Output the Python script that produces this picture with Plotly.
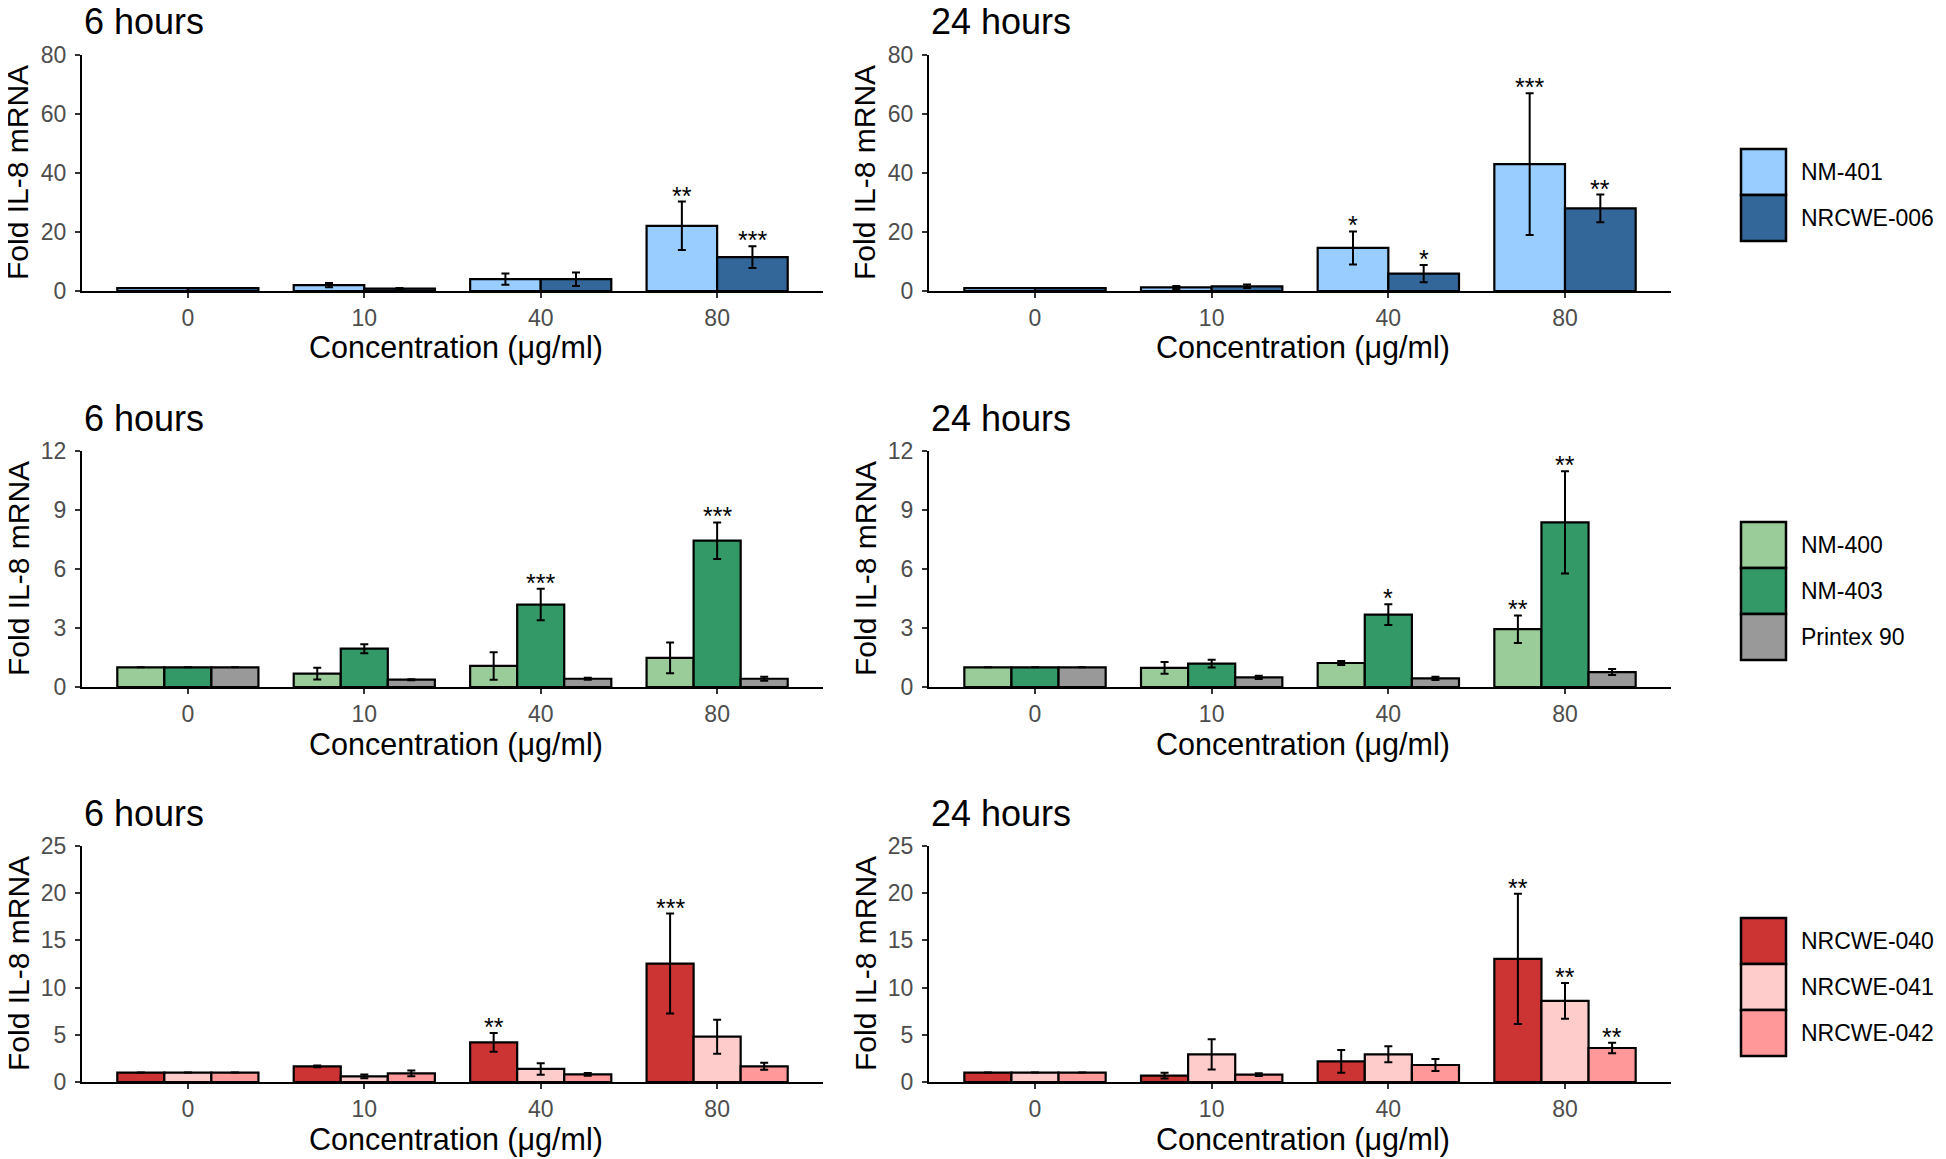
import plotly.graph_objects as go

# The page body adds an 8 px margin; all pixel targets are offset by it and
# the figure extends to the window's right/bottom edges.
OFF = 8
W, H = 1946 - OFF, 1159 - OFF

# ---------------- data ----------------
categories = ["0", "10", "40", "80"]
tick_vals_rows = [[0, 20, 40, 60, 80], [0, 3, 6, 9, 12], [0, 5, 10, 15, 20, 25]]
y_max_rows = [80, 12, 25]
panel_titles = ["6 hours", "24 hours"]

series_row1 = ["NM-401", "NRCWE-006"]
colors_row1 = ["#99CCFF", "#336699"]
series_row2 = ["NM-400", "NM-403", "Printex 90"]
colors_row2 = ["#99CC99", "#339966", "#999999"]
series_row3 = ["NRCWE-040", "NRCWE-041", "NRCWE-042"]
colors_row3 = ["#CC3333", "#FFCCCC", "#FF9999"]

# row 1
nm401_6h = [1.0, 2.0, 4.0, 22.1]
nm401_6h_err = [0, 0.7, 1.9, 8.2]
nrcwe006_6h = [1.0, 0.8, 4.0, 11.5]
nrcwe006_6h_err = [0, 0.2, 2.3, 3.7]
nm401_24h = [1.0, 1.2, 14.6, 43.0]
nm401_24h_err = [0, 0.5, 5.6, 24.0]
nrcwe006_24h = [1.0, 1.6, 5.9, 28.0]
nrcwe006_24h_err = [0, 0.6, 2.9, 4.7]

# row 2
nm400_6h = [1.0, 0.68, 1.07, 1.48]
nm400_6h_err = [0, 0.3, 0.7, 0.78]
nm403_6h = [1.0, 1.95, 4.19, 7.44]
nm403_6h_err = [0, 0.23, 0.8, 0.93]
printex_6h = [1.0, 0.37, 0.42, 0.42]
printex_6h_err = [0, 0.03, 0.05, 0.1]
nm400_24h = [1.0, 0.97, 1.22, 2.94]
nm400_24h_err = [0, 0.3, 0.1, 0.7]
nm403_24h = [1.0, 1.19, 3.68, 8.37]
nm403_24h_err = [0, 0.2, 0.53, 2.6]
printex_24h = [1.0, 0.49, 0.44, 0.76]
printex_24h_err = [0, 0.08, 0.08, 0.15]

# row 3
n040_6h = [1.0, 1.66, 4.2, 12.55]
n040_6h_err = [0, 0.1, 1.0, 5.3]
n041_6h = [1.0, 0.6, 1.38, 4.8]
n041_6h_err = [0, 0.2, 0.6, 1.8]
n042_6h = [1.0, 0.92, 0.81, 1.66]
n042_6h_err = [0, 0.3, 0.15, 0.37]
n040_24h = [1.0, 0.67, 2.19, 13.05]
n040_24h_err = [0, 0.3, 1.2, 6.9]
n041_24h = [1.0, 2.93, 2.93, 8.6]
n041_24h_err = [0, 1.6, 0.85, 1.9]
n042_24h = [1.0, 0.78, 1.8, 3.6]
n042_24h_err = [0, 0.15, 0.63, 0.55]

# significance marks: (category index, series index, label)
stars_1a = [(3, 0, "**"), (3, 1, "***")]
stars_1b = [(2, 0, "*"), (2, 1, "*"), (3, 0, "***"), (3, 1, "**")]
stars_2a = [(2, 1, "***"), (3, 1, "***")]
stars_2b = [(2, 1, "*"), (3, 0, "**"), (3, 1, "**")]
stars_3a = [(2, 0, "**"), (3, 0, "***")]
stars_3b = [(3, 0, "**"), (3, 1, "**"), (3, 2, "**")]

panels = [
    (0, 0, series_row1, colors_row1, [nm401_6h, nrcwe006_6h], [nm401_6h_err, nrcwe006_6h_err], stars_1a),
    (0, 1, series_row1, colors_row1, [nm401_24h, nrcwe006_24h], [nm401_24h_err, nrcwe006_24h_err], stars_1b),
    (1, 0, series_row2, colors_row2, [nm400_6h, nm403_6h, printex_6h], [nm400_6h_err, nm403_6h_err, printex_6h_err], stars_2a),
    (1, 1, series_row2, colors_row2, [nm400_24h, nm403_24h, printex_24h], [nm400_24h_err, nm403_24h_err, printex_24h_err], stars_2b),
    (2, 0, series_row3, colors_row3, [n040_6h, n041_6h, n042_6h], [n040_6h_err, n041_6h_err, n042_6h_err], stars_3a),
    (2, 1, series_row3, colors_row3, [n040_24h, n041_24h, n042_24h], [n040_24h_err, n041_24h_err, n042_24h_err], stars_3b),
]

# ---------------- layout geometry (window pixels) ----------------
col_x = [(82, 823), (929, 1671)]
row_y = [(55, 291), (451, 687), (846, 1082)]
legend_centers = [195, 591, 987]
GROUP_W = 0.8

FONT = "Liberation Sans, Arial, sans-serif"


def px(x):
    return (x - OFF) / W


def py(y):
    return 1 - (y - OFF) / H


fig = go.Figure()
annotations = []
shapes = []

for k, (r, c, names, cols, vals, errs, stars) in enumerate(panels):
    idx = "" if k == 0 else str(k + 1)
    xa, ya = "x" + idx, "y" + idx
    for name, col, v, e in zip(names, cols, vals, errs):
        fig.add_trace(go.Bar(
            x=categories, y=v, name=name, xaxis=xa, yaxis=ya, showlegend=False,
            marker=dict(color=col, line=dict(color="black", width=2.2)),
            error_y=dict(type="data", array=e, visible=True, color="black",
                         thickness=2, width=4),
        ))
    x0, x1 = col_x[c]
    y0, y1 = row_y[r]
    axis_common = dict(
        showline=True, linecolor="black", linewidth=2.2,
        ticks="outside", ticklen=5, tickwidth=2, tickcolor="#333333",
        tickfont=dict(family=FONT, size=23, color="#4D4D4D"),
        showgrid=False, zeroline=False, fixedrange=True, automargin=False,
    )
    fig.update_layout(**{
        ("xaxis" + idx): dict(
            domain=[px(x0), px(x1)], anchor=ya, type="category",
            range=[-0.6, 3.6], **axis_common,
        ),
        ("yaxis" + idx): dict(
            domain=[py(y1), py(y0)], anchor=xa, range=[0, y_max_rows[r]],
            tickvals=tick_vals_rows[r], ticklabelstandoff=4, **axis_common,
        ),
    })
    annotations.append(dict(
        text=panel_titles[c], xref="paper", yref="paper",
        x=px(x0), y=py(y0 - 33), xanchor="left", yanchor="middle",
        showarrow=False, font=dict(family=FONT, size=36, color="black"),
    ))
    annotations.append(dict(
        text="Concentration (\u03bcg/ml)", xref="paper", yref="paper",
        x=px((x0 + x1) / 2 + 3), y=py(y1 + 57), xanchor="center", yanchor="middle",
        showarrow=False, font=dict(family=FONT, size=30.5, color="black"),
    ))
    annotations.append(dict(
        text="Fold IL-8 mRNA", xref="paper", yref="paper",
        x=px(x0 - 64), y=py((y0 + y1) / 2), xanchor="center", yanchor="middle",
        textangle=-90, showarrow=False,
        font=dict(family=FONT, size=30, color="black"),
    ))
    n = len(names)
    for ci, si, lab in stars:
        xpos = ci - GROUP_W / 2 + (si + 0.5) * GROUP_W / n
        ytop = vals[si][ci] + errs[si][ci]
        annotations.append(dict(
            text=lab, x=xpos, y=ytop, xref=xa, yref=ya,
            xanchor="center", yanchor="middle", yshift=6, showarrow=False,
            font=dict(family=FONT, size=25, color="black"),
        ))

# ---------------- legends (one per row) ----------------
KEY = 46
for r, (names, cols) in enumerate([(series_row1, colors_row1),
                                   (series_row2, colors_row2),
                                   (series_row3, colors_row3)]):
    n = len(names)
    top = legend_centers[r] - n * KEY / 2
    for i, (name, col) in enumerate(zip(names, cols)):
        ky0 = top + i * KEY
        shapes.append(dict(
            type="rect", xref="paper", yref="paper",
            x0=px(1741), x1=px(1786), y0=py(ky0 + KEY), y1=py(ky0),
            fillcolor=col, line=dict(color="black", width=2.5),
        ))
        annotations.append(dict(
            text=name, xref="paper", yref="paper", x=px(1799),
            y=py(ky0 + KEY / 2), xanchor="left", yanchor="middle",
            showarrow=False, font=dict(family=FONT, size=23, color="black"),
        ))

fig.update_layout(
    template="none",
    width=W, height=H, margin=dict(l=0, r=0, t=0, b=0, pad=0, autoexpand=False),
    paper_bgcolor="white", plot_bgcolor="white",
    barmode="group", bargap=1 - GROUP_W, bargroupgap=0,
    annotations=annotations, shapes=shapes, showlegend=False,
    font=dict(family=FONT),
)

fig.write_html("out.html")
